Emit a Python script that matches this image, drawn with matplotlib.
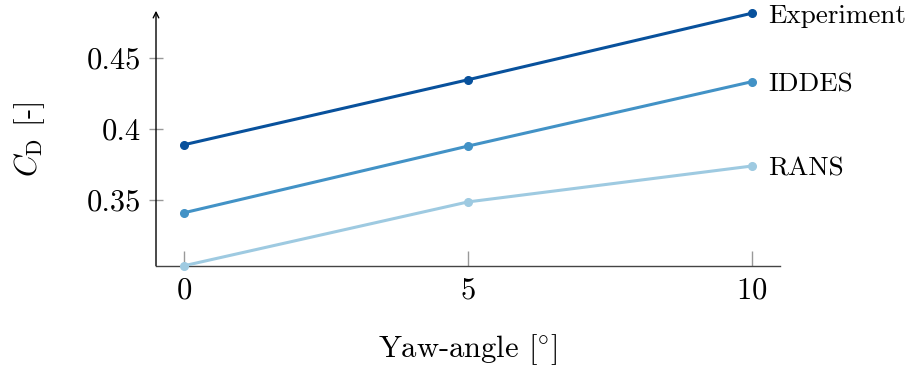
import matplotlib.pyplot as plt

plt.rcParams['font.family'] = ['cmr10', 'DejaVu Serif']
plt.rcParams['mathtext.fontset'] = 'cm'
plt.rcParams['axes.formatter.use_mathtext'] = True

# data
yaw = [0, 5, 10]
series_names = ["Experiment", "IDDES", "RANS"]
cd_experiment = [0.389, 0.4348, 0.4817]
cd_iddes = [0.341, 0.388, 0.4334]
cd_rans = [0.3036, 0.3486, 0.3739]
colors = ['#08519c', '#4292c6', '#9ecae1']
yticks = [0.35, 0.4, 0.45]
ytick_labels = ['0.35', '0.4', '0.45']
xticks = [0, 5, 10]

fig = plt.figure(figsize=(9.07, 3.69), dpi=100)
ax = fig.add_axes([0.172, 0.280, 0.688, 0.684])

for name, vals, c in zip(series_names, [cd_experiment, cd_iddes, cd_rans], colors):
    ax.plot(yaw, vals, color=c, lw=2.2, marker='o', markersize=5.5, clip_on=False, zorder=3)
    # label at the end of each line
    ax.annotate(name, xy=(yaw[-1], vals[-1]), xytext=(12, -2), textcoords='offset points',
                fontsize=19.5, va='center', ha='left', color='black', annotation_clip=False)

ax.set_xlim(-0.5, 10.5)
ax.set_ylim(min(cd_rans), max(cd_experiment))

ax.spines['top'].set_visible(False)
ax.spines['right'].set_visible(False)
ax.spines['left'].set_visible(False)
ax.spines['bottom'].set_color('#444444')
ax.spines['bottom'].set_linewidth(1.0)

# y-axis drawn as arrow
ax.annotate('', xy=(0, 1.01), xytext=(0, 0), xycoords='axes fraction',
            arrowprops=dict(arrowstyle='->', color='black', lw=1.0,
                            shrinkA=0, shrinkB=0, mutation_scale=10))

ax.set_yticks(yticks)
ax.set_yticklabels(ytick_labels)
ax.set_xticks(xticks)
ax.tick_params(axis='y', direction='inout', length=10, width=1.0, color='#999999',
               labelsize=22, pad=6)
ax.tick_params(axis='x', direction='in', length=11, width=1.0, color='#999999',
               labelsize=22, pad=8)

ax.set_xlabel(r'Yaw-angle $[^{\circ}]$', fontsize=22, labelpad=20)
ax.set_ylabel(r'$C_\mathrm{D}$ [-]', fontsize=22, labelpad=28)

fig.savefig('out.png', dpi=100)
